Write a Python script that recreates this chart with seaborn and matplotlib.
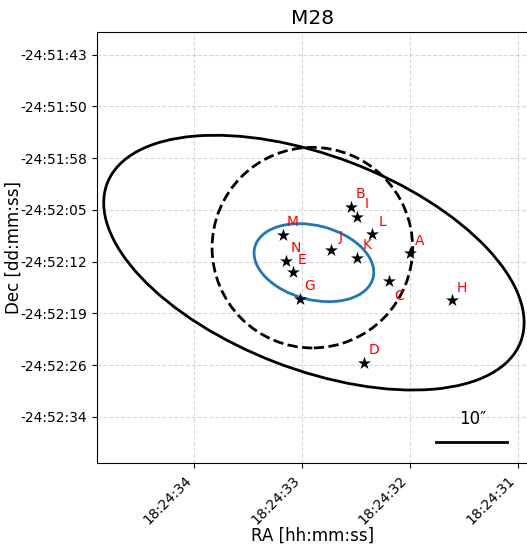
import numpy as np
import seaborn as sns
from matplotlib import pyplot as plt
from matplotlib.patches import Ellipse, Circle
from matplotlib.ticker import FixedLocator, FuncFormatter

# sources (RA / Dec in degrees)
names = ['A', 'B', 'C', 'D', 'E', 'G', 'H', 'I', 'J', 'K', 'L', 'M', 'N']
ra = [276.133327, 276.135606, 276.134138, 276.135093, 276.137859, 276.137589, 276.131692,
      276.135363, 276.136368, 276.135375, 276.134783, 276.138246, 276.138107]
dec = [-24.869678, -24.867878, -24.870749, -24.873917, -24.870413, -24.871444, -24.871483,
       -24.868264, -24.869539, -24.869848, -24.868933, -24.868960, -24.869964]

# cluster centre, field centre and region sizes (arcsec)
centre_ra, centre_dec = 276.13704, -24.87004
field_ra, field_dec = 276.13710, -24.86946
field_half = 30.0
core_radius = 13.95
outer_axes = [61.6, 29.7]
outer_angle = 21.0
inner_axes = [17.0, 10.3]
inner_angle = 14.6
scalebar = 10.0

ra_ticks = ['18:24:34', '18:24:33', '18:24:32', '18:24:31']
dec_ticks = [-24.862, -24.864, -24.866, -24.868, -24.870, -24.872, -24.874, -24.876]


def hms_to_deg(text):
    h, m, s = [float(v) for v in text.split(':')]
    return 15.0 * (h + m / 60.0 + s / 3600.0)


def fmt_ra(value, pos):
    hours = value / 15.0
    h = int(hours)
    m = int((hours - h) * 60)
    s = round(((hours - h) * 60 - m) * 60)
    return f'{h:02d}:{m:02d}:{s:02d}'


def fmt_dec(value, pos):
    sign = '-' if value < 0 else '+'
    v = abs(value)
    d = int(v)
    m = int((v - d) * 60)
    s = round(((v - d) * 60 - m) * 60)
    return f'{sign}{d:02d}:{m:02d}:{s:02d}'


fig = plt.figure(figsize=(5.27, 5.45), dpi=100)
ax = fig.add_axes([96.7 / 527, 81.7 / 545, 431.3 / 527, 431.3 / 545])

ax.add_patch(Ellipse((centre_ra, centre_dec), outer_axes[0] / 3600, outer_axes[1] / 3600, angle=outer_angle,
                     fill=False, color='black', lw=2, zorder=3))
ax.add_patch(Circle((field_ra, field_dec), core_radius / 3600, fill=False, color='black', lw=2, ls='--', zorder=3))
ax.add_patch(Ellipse((centre_ra, centre_dec), inner_axes[0] / 3600, inner_axes[1] / 3600, angle=inner_angle,
                     fill=False, color='C0', lw=2, zorder=3))

sns.scatterplot(x=ra, y=dec, marker='*', s=95, color='black', edgecolor='black', linewidth=0, ax=ax, zorder=4)

for name, x, y in zip(names, ra, dec):
    offset = (7, -11) if name == 'C' else (7, 9)
    ax.annotate(name, (x, y), xytext=offset, textcoords='offset points', color='red', fontsize=10,
                ha='center', va='center', zorder=5)

half = field_half / 3600
ax.set_xlim(field_ra + half, field_ra - half)
ax.set_ylim(field_dec - half, field_dec + half)

# scale bar
x0, x1 = ax.get_xlim()
y0, y1 = ax.get_ylim()
bar_x = x0 + 0.869 * (x1 - x0)
bar_y = y0 + 0.049 * (y1 - y0)
ax.plot([bar_x + scalebar / 7200, bar_x - scalebar / 7200], [bar_y, bar_y], color='black', lw=2, zorder=4)
ax.annotate(f'{scalebar:.0f}\u2033', (bar_x, bar_y), xytext=(1, 13), textcoords='offset points',
            ha='center', va='baseline', fontsize=12)

ax.xaxis.set_major_locator(FixedLocator([hms_to_deg(t) for t in ra_ticks]))
ax.yaxis.set_major_locator(FixedLocator(dec_ticks))
ax.xaxis.set_major_formatter(FuncFormatter(fmt_ra))
ax.yaxis.set_major_formatter(FuncFormatter(fmt_dec))
plt.setp(ax.get_xticklabels(), rotation=45, ha='right')

ax.grid(True, linestyle='--', alpha=0.5, zorder=0)
ax.set_axisbelow(True)
ax.spines['right'].set_visible(False)

ax.set_xlabel('RA [hh:mm:ss]', fontsize=12, labelpad=0)
ax.set_ylabel('Dec [dd:mm:ss]', fontsize=12, labelpad=-2)
ax.set_title('M28', fontsize=14.5)

fig.savefig('out.png', dpi=100)
